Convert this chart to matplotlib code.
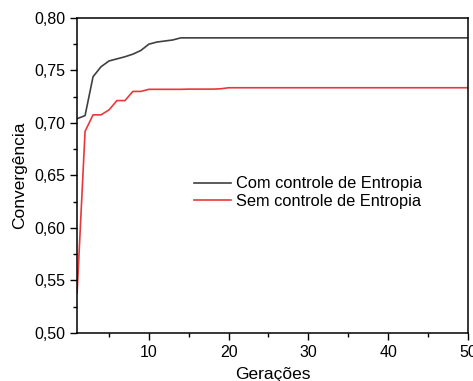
import matplotlib
matplotlib.use("Agg")
import matplotlib.pyplot as plt
from matplotlib.ticker import FuncFormatter, MultipleLocator

geracoes = list(range(1, 51))

com_inicio = [0.704, 0.707, 0.744, 0.7535, 0.759, 0.761, 0.763, 0.7655, 0.769, 0.775,
              0.777, 0.778, 0.779, 0.781]
com_entropia = com_inicio + [0.781] * (50 - len(com_inicio))

sem_inicio = [0.538, 0.692, 0.7077, 0.7077, 0.7124, 0.7213, 0.7213, 0.730, 0.730, 0.732,
              0.732, 0.732, 0.732, 0.732, 0.7322, 0.7322, 0.7322, 0.7322, 0.7325]
sem_entropia = sem_inicio + [0.7335] * (50 - len(sem_inicio))

plt.rcParams["font.family"] = ["Liberation Sans", "DejaVu Sans"]

fig = plt.figure(figsize=(4.73, 3.81), dpi=100)
ax = fig.add_axes([0.163, 0.126, 0.826, 0.827])

ax.plot(geracoes, com_entropia, color="#404040", lw=1.2, label="Com controle de Entropia")
ax.plot(geracoes, sem_entropia, color="#e8383b", lw=1.2, label="Sem controle de Entropia")

ax.set_xlim(1, 50)
ax.set_ylim(0.50, 0.80)
ax.xaxis.set_major_locator(MultipleLocator(10))
ax.xaxis.set_minor_locator(MultipleLocator(5))
ax.yaxis.set_major_locator(MultipleLocator(0.05))
ax.yaxis.set_minor_locator(MultipleLocator(0.025))
ax.yaxis.set_major_formatter(FuncFormatter(lambda v, p: f"{v:.2f}".replace(".", ",")))

ax.tick_params(which="major", length=5, width=1, labelsize=11.5, direction="out")
ax.tick_params(which="minor", length=3, width=1, direction="out")
for s in ax.spines.values():
    s.set_linewidth(1.1)

ax.set_xlabel("Gerações", fontsize=12.5, labelpad=5)
ax.set_ylabel("Convergência", fontsize=12.5, labelpad=5)

ax.legend(loc="upper left", bbox_to_anchor=(0.278, 0.523), frameon=False, fontsize=11.8,
          handlelength=2.25, handletextpad=0.3, labelspacing=0.15, borderpad=0)

fig.savefig("out.png", dpi=100)
